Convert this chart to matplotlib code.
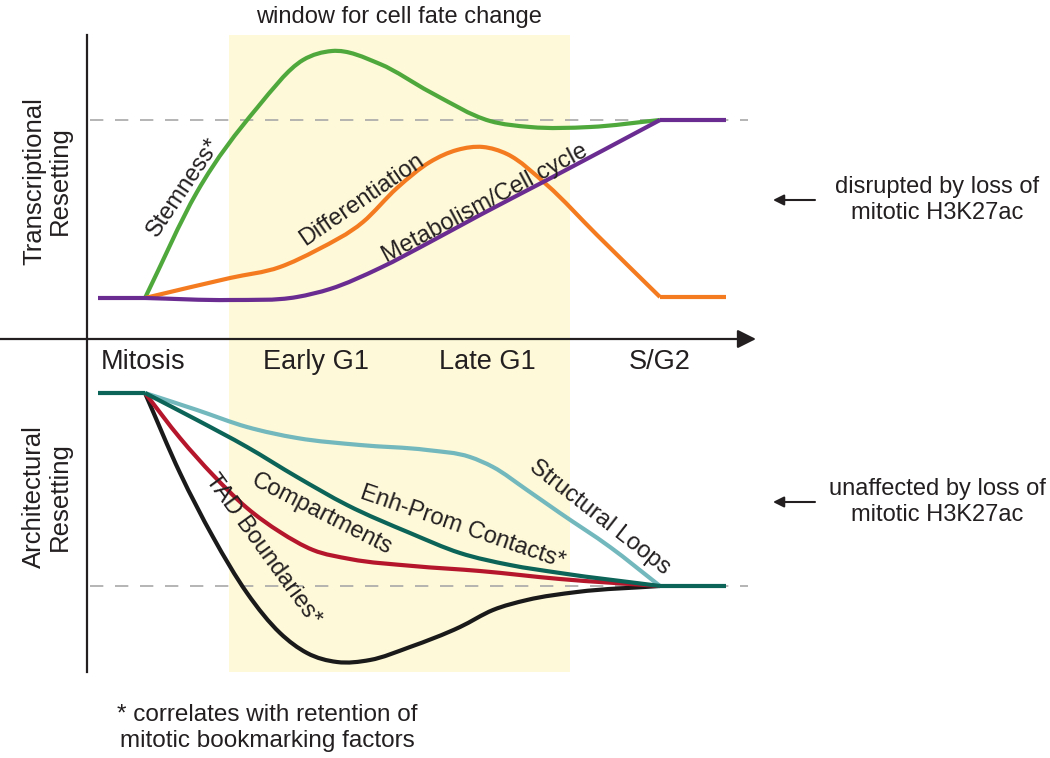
import matplotlib.pyplot as plt
import numpy as np
from matplotlib.path import Path
from matplotlib.patches import PathPatch, Rectangle

plt.rcParams['font.family'] = ['Liberation Sans', 'DejaVu Sans']

# canvas is laid out in pixel units (y grows downward)
W, H = 1050, 758

phase_labels = ['Mitosis', 'Early G1', 'Late G1', 'S/G2']
phase_x = [143, 316, 487, 660]

# transcriptional resetting curves (x, y in pixels)
stem_x = [145, 197, 257, 303, 332, 380, 430, 490, 530, 590, 660]
stem_y = [298, 192, 108, 60, 51, 64, 92, 121, 127, 127, 120]
diff_x = [145, 230, 280, 317, 363, 397, 430, 457, 483, 507, 547, 597, 660]
diff_y = [298, 278, 267, 250, 222, 188, 162, 150, 147, 154, 185, 235, 297]
metab_x = [145, 230, 297, 330, 380, 430, 480, 547, 660]
metab_y = [298, 300, 297, 289, 268, 242, 215, 180, 120]

# architectural resetting curves
loops_x = [145, 197, 247, 297, 360, 427, 470, 493, 527, 560, 610, 660]
loops_y = [393, 410, 427, 438, 445, 450, 457, 467, 490, 513, 547, 586]
enh_x = [145, 197, 247, 297, 347, 410, 460, 510, 560, 660]
enh_y = [393, 420, 447, 477, 505, 533, 553, 565, 573, 586]
comp_x = [145, 180, 213, 247, 280, 313, 350, 413, 480, 560, 660]
comp_y = [393, 438, 475, 508, 532, 550, 559, 566, 571, 579, 586]
tad_x = [145, 180, 213, 247, 280, 307, 337, 370, 410, 460, 493, 527, 577, 660]
tad_y = [393, 473, 537, 593, 633, 653, 662, 660, 647, 627, 610, 600, 592, 586]


def smooth_path(xs, ys):
    # cubic Hermite through the points, handed to matplotlib as Bezier segments
    x = np.asarray(xs, float)
    y = np.asarray(ys, float)
    h = np.diff(x)
    d = np.diff(y) / h
    m = np.empty_like(y)
    m[0], m[-1] = d[0], d[-1]
    m[1:-1] = (d[:-1] * h[1:] + d[1:] * h[:-1]) / (h[:-1] + h[1:])
    verts = [(x[0], y[0])]
    codes = [Path.MOVETO]
    for i in range(len(x) - 1):
        verts += [(x[i] + h[i] / 3, y[i] + m[i] * h[i] / 3),
                  (x[i + 1] - h[i] / 3, y[i + 1] - m[i + 1] * h[i] / 3),
                  (x[i + 1], y[i + 1])]
        codes += [Path.CURVE4] * 3
    return Path(verts, codes)


def curve(ax, xs, ys, color, z):
    ax.add_patch(PathPatch(smooth_path(xs, ys), fc='none', ec=color, lw=3,
                           capstyle='butt', joinstyle='round', zorder=z))


fig = plt.figure(figsize=(W / 100, H / 100), dpi=100)
ax = fig.add_axes([0, 0, 1, 1])
ax.set_xlim(0, W)
ax.set_ylim(H, 0)
ax.axis('off')

ink = '#231f20'
# window for cell fate change
ax.add_patch(Rectangle((229, 35), 341, 637, fc='#fef9d8', ec='none', zorder=0))
ax.text(399, 17, 'window for cell fate change', fontsize=17, ha='center', va='center', color=ink)

# axes
ax.plot([87, 87], [35, 672], color=ink, lw=1.6, zorder=1)
ax.annotate('', xy=(756, 339), xytext=(0, 339),
            arrowprops=dict(arrowstyle='-|>', color=ink, lw=1.6, mutation_scale=28,
                            shrinkA=0, shrinkB=0), zorder=1)
for px, lab in zip(phase_x, phase_labels):
    ax.text(px, 362, lab, fontsize=19.5, ha='center', va='center', color=ink)

# reference levels
for y in [120, 586]:
    ax.plot([90, 748], [y, y], color='#a8a8a8', lw=1.2, dashes=(8, 7), zorder=1)

# transcriptional
curve(ax, stem_x, stem_y, '#4ea83c', 3)
curve(ax, diff_x, diff_y, '#f47b20', 4)
curve(ax, metab_x, metab_y, '#6a2c91', 5)
ax.plot([98, 145], [298, 298], color='#6a2c91', lw=3, zorder=5, solid_capstyle='butt')
ax.plot([660, 726], [120, 120], color='#6a2c91', lw=3, zorder=5, solid_capstyle='butt')
ax.plot([660, 726], [297, 297], color='#f47b20', lw=3, zorder=4, solid_capstyle='butt')

# architectural
curve(ax, tad_x, tad_y, '#1a1a1a', 3)
curve(ax, comp_x, comp_y, '#b5162b', 4)
curve(ax, loops_x, loops_y, '#72b8bd', 5)
curve(ax, enh_x, enh_y, '#0c6357', 6)
ax.plot([98, 145], [393, 393], color='#0c6357', lw=3, zorder=6, solid_capstyle='butt')
ax.plot([660, 726], [586, 586], color='#0c6357', lw=3, zorder=6, solid_capstyle='butt')

# curve labels
labels = [
    ('Stemness*', 184, 187, 56),
    ('Differentiation', 362, 200, 34.5),
    ('Metabolism/Cell cycle', 485, 203, 28),
    ('TAD Boundaries*', 263, 550, -54),
    ('Compartments', 322, 514, -27),
    ('Enh-Prom Contacts*', 463, 527, -19),
    ('Structural Loops', 600, 517, -38),
]
for txt, x, y, rot in labels:
    ax.text(x, y, txt, fontsize=17, rotation=rot, rotation_mode='anchor',
            ha='center', va='center', color=ink, zorder=7)

# row titles
ax.text(47, 181, 'Transcriptional\nResetting', fontsize=18.5, rotation=90,
        ha='center', va='center', color=ink, linespacing=1.1)
ax.text(47, 497, 'Architectural\nResetting', fontsize=18.5, rotation=90,
        ha='center', va='center', color=ink, linespacing=1.1)

# side notes
for y, txt in [(200, 'disrupted by loss of\nmitotic H3K27ac'),
               (502, 'unaffected by loss of\nmitotic H3K27ac')]:
    ax.annotate('', xy=(773, y), xytext=(815, y),
                arrowprops=dict(arrowstyle='-|>', color=ink, lw=1.5, mutation_scale=16,
                                shrinkA=0, shrinkB=0))
    ax.text(937, y, txt, fontsize=17, ha='center', va='center', color=ink)

ax.text(267, 728, '* correlates with retention of\nmitotic bookmarking factors',
        fontsize=17.5, ha='center', va='center', color=ink)

fig.savefig('out.png', dpi=100)
